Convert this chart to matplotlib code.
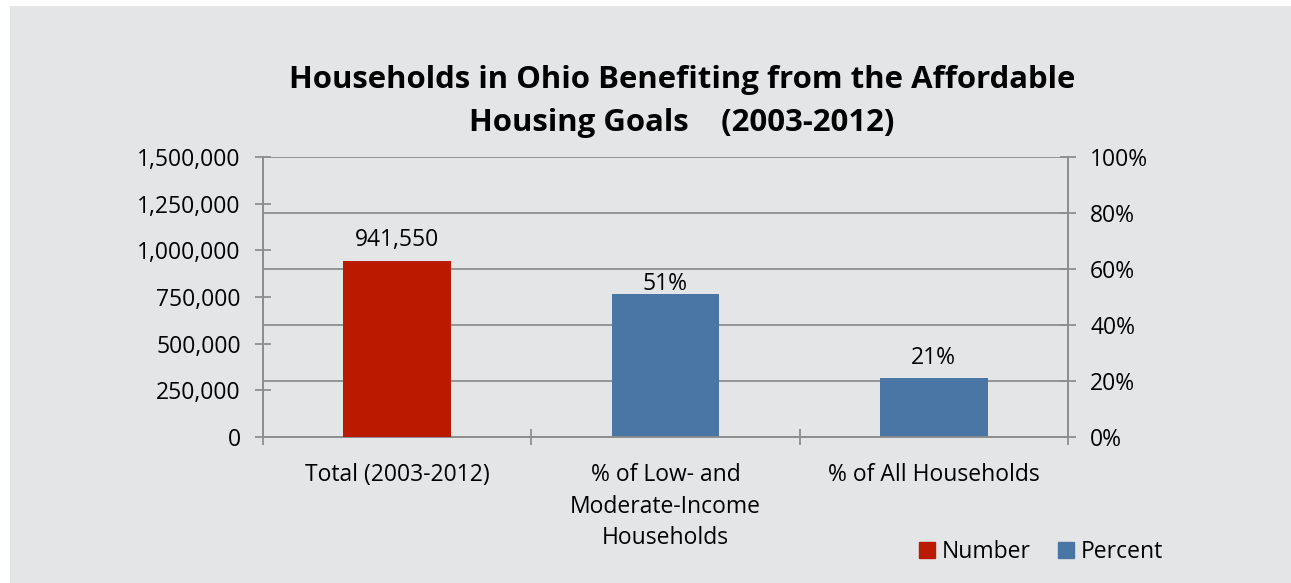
import matplotlib.pyplot as plt
from matplotlib.patches import Rectangle, Patch
from matplotlib.ticker import FuncFormatter

categories = ['Total (2003-2012)', '% of Low- and\nModerate-Income\nHouseholds', '% of All Households']
number_values = [941550]
percent_values = [0.51, 0.21]
number_labels = ['941,550']
percent_labels = ['51%', '21%']

red = '#B91A00'
blue = '#4A76A5'
grid_gray = '#8E8E8E'
bg = '#E4E5E7'

plt.rcParams['font.family'] = ['Open Sans', 'DejaVu Sans']

fig = plt.figure(figsize=(12.91, 5.83), dpi=100)
fig.patches.append(Rectangle((10 / 1291, 0), 1, 577 / 583, transform=fig.transFigure,
                             facecolor=bg, edgecolor='none', zorder=-10))

ax2 = fig.add_axes([263 / 1291, 146 / 583, 805 / 1291, 280 / 583])
ax = ax2.twinx()
# ax holds the numbers on the left, ax2 the percents on the right
ax.yaxis.set_label_position('left')
ax.yaxis.tick_left()
ax2.yaxis.tick_right()
ax.set_zorder(ax2.get_zorder() + 1)
ax.patch.set_visible(False)
ax2.patch.set_visible(False)

ax.bar([0], number_values, width=0.4, color=red, zorder=3)
ax2.bar([1, 2], percent_values, width=0.4, color=blue, zorder=3)

ax.set_ylim(0, 1500000)
ax.set_yticks(range(0, 1500001, 250000))
ax.yaxis.set_major_formatter(FuncFormatter(lambda v, p: f'{int(v):,}'))
ax2.set_ylim(0, 1)
ax2.set_yticks([0, 0.2, 0.4, 0.6, 0.8, 1.0])
ax2.yaxis.set_major_formatter(FuncFormatter(lambda v, p: f'{v * 100:.0f}%'))
ax2.set_axisbelow(True)
ax2.grid(axis='y', color=grid_gray, linewidth=1.3)

fs = 16.5
ax2.set_xlim(-0.5, 2.5)
ax2.set_xticks([-0.5, 0.5, 1.5, 2.5])
ax2.set_xticklabels([])
ax2.set_xticks([0, 1, 2], minor=True)
ax2.set_xticklabels(categories, minor=True, fontsize=fs, linespacing=1.4, va='top')
ax2.tick_params(axis='x', which='minor', length=0, pad=19)
ax2.tick_params(axis='x', which='major', direction='inout', length=12, width=1.3, color=grid_gray)

ax.tick_params(axis='y', direction='inout', length=12, width=1.3, color=grid_gray, labelsize=fs, pad=10)
ax2.tick_params(axis='y', direction='inout', length=12, width=1.3, color=grid_gray, labelsize=fs, pad=10)

for a in (ax, ax2):
    a.spines['top'].set_visible(False)
    for s in ('left', 'right', 'bottom'):
        a.spines[s].set_color(grid_gray)
        a.spines[s].set_linewidth(1.3)

ax.annotate(number_labels[0], (0, number_values[0]), xytext=(0, 7), textcoords='offset points',
            ha='center', va='bottom', fontsize=fs)
label_offsets = [-1, 6]
for i, (v, lab) in enumerate(zip(percent_values, percent_labels)):
    ax2.annotate(lab, (i + 1, v), xytext=(0, label_offsets[i]), textcoords='offset points',
                 ha='center', va='bottom', fontsize=fs)

fig.text(682 / 1291, (583 - 88) / 583, 'Households in Ohio Benefiting from the Affordable',
         ha='center', va='baseline', fontsize=22.4, fontweight='bold')
fig.text(682 / 1291, (583 - 131) / 583, 'Housing Goals    (2003-2012)',
         ha='center', va='baseline', fontsize=22.4, fontweight='bold')

handles = [Patch(color=red, label='Number'), Patch(color=blue, label='Percent')]
fig.legend(handles=handles, loc='center', bbox_to_anchor=(1041 / 1291, 31 / 583), ncol=2,
           frameon=False, fontsize=fs, handlelength=0.7, handleheight=0.7,
           handletextpad=0.3, columnspacing=1.2)

fig.savefig('out.png', dpi=100)
